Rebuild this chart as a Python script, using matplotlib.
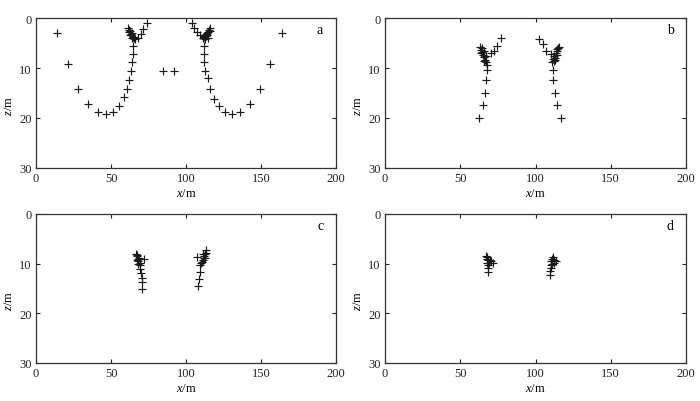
import matplotlib
matplotlib.use("Agg")
import matplotlib.pyplot as plt

plt.rcParams['font.family'] = ['Liberation Serif', 'DejaVu Serif']
plt.rcParams['mathtext.fontset'] = 'custom'
plt.rcParams['mathtext.it'] = 'Liberation Serif:italic'
plt.rcParams['mathtext.rm'] = 'Liberation Serif'

# Panel a
xa = [14.2, 21.1, 28.2, 34.9, 41.1, 46.7, 51.6, 55.3, 58.7, 60.9, 62.2, 63.3, 64.2, 64.7, 64.7,
      61.5, 62.0, 62.3, 62.8, 63.2, 63.6, 64.0, 64.5, 65.0, 65.6, 66.2, 62.5, 63.8,
      68.2, 70.0, 71.6, 73.8,
      84.9, 92.0,
      104.0, 105.3, 107.1, 109.3,
      111.5, 112.2, 112.8, 113.3, 113.8, 114.3, 114.8, 115.3, 115.8, 116.2, 113.0, 114.5, 111.8,
      112.0, 112.0, 112.0, 112.7, 114.7, 116.0, 118.9, 121.8, 125.8, 130.4, 136.0, 142.7, 149.3, 156.0, 164.2]
za = [2.9, 9.2, 14.1, 17.2, 18.7, 19.1, 18.7, 17.5, 15.8, 14.1, 12.3, 10.5, 8.7, 7.1, 5.5,
      2.0, 2.4, 2.8, 2.6, 3.1, 3.4, 3.0, 3.7, 4.0, 3.8, 4.2, 3.3, 3.9,
      3.9, 3.1, 2.2, 1.0,
      10.5, 10.5,
      1.0, 2.0, 2.7, 3.4,
      4.0, 3.7, 4.2, 3.5, 3.0, 3.4, 2.7, 2.4, 2.0, 2.6, 3.1, 3.9, 3.5,
      5.5, 7.1, 8.7, 10.5, 12.0, 14.1, 16.1, 17.5, 18.7, 19.2, 18.7, 17.2, 14.1, 9.2, 2.9]

# Panel b
xb = [62.4, 64.9, 66.2, 67.3, 67.8, 68.0,
      63.0, 63.5, 64.2, 64.6, 65.0, 65.5, 66.0, 66.4, 67.0, 67.3, 64.0, 65.8,
      70.4, 72.7, 74.4, 77.1,
      102.4, 104.7, 107.3, 110.0,
      111.0, 111.5, 112.0, 112.5, 113.0, 113.5, 114.0, 114.5, 115.0, 115.5, 113.2, 114.2,
      111.3, 111.8, 112.7, 114.4, 116.7]
zb = [19.9, 17.4, 14.9, 12.3, 10.3, 9.3,
      5.8, 6.3, 6.0, 6.8, 7.3, 6.6, 7.8, 8.3, 7.6, 8.8, 7.0, 8.6,
      7.0, 6.5, 5.5, 3.9,
      4.1, 5.2, 6.5, 7.2,
      8.8, 8.2, 8.6, 7.5, 7.9, 7.0, 6.6, 6.2, 6.0, 5.8, 8.3, 7.4,
      10.3, 12.3, 14.9, 17.4, 19.9]

# Panel c
xc = [66.5, 67.0, 67.5, 67.8, 68.2, 68.6, 69.0, 69.3, 67.3, 68.0, 72.2, 69.5, 69.8, 70.4, 70.7, 70.9,
      113.2, 113.6, 112.8, 112.3, 111.8, 112.6, 111.2, 110.6, 110.2, 111.5, 107.1, 109.5, 109.2, 108.7, 108.2]
zc = [8.0, 8.5, 8.2, 9.0, 9.5, 8.8, 9.8, 10.3, 9.3, 10.0, 9.0, 11.0, 11.9, 12.8, 13.7, 15.2,
      7.3, 7.8, 8.0, 8.4, 8.8, 8.9, 9.2, 9.6, 9.9, 8.0, 8.7, 10.3, 11.7, 13.0, 14.5]

# Panel d
xd = [67.0, 67.5, 68.0, 68.5, 69.0, 68.3, 69.5, 70.5, 71.8, 67.5, 68.5, 68.5,
      111.5, 111.0, 112.0, 110.5, 111.2, 110.0, 112.5, 113.5, 110.2, 109.8, 109.8]
zd = [8.5, 9.0, 8.7, 9.3, 9.8, 10.2, 9.2, 9.5, 9.8, 9.8, 10.8, 11.7,
      8.6, 9.0, 9.2, 9.5, 10.0, 10.3, 9.8, 9.5, 10.8, 11.5, 12.3]

panel_labels = ['a', 'b', 'c', 'd']
x_ticks = [0, 50, 100, 150, 200]
z_ticks = [0, 10, 20, 30]

fig = plt.figure(figsize=(7.0, 4.02), dpi=100)
W, H = 700.0, 402.0
rects = [(36, 19, 300, 150), (385, 19, 301, 150), (36, 215, 300, 149), (385, 215, 301, 149)]
data = [(xa, za), (xb, zb), (xc, zc), (xd, zd)]

for (l, t, w, h), (xs, zs), lab in zip(rects, data, panel_labels):
    ax = fig.add_axes([l / W, 1 - (t + h) / H, w / W, h / H])
    ax.plot(xs, zs, linestyle='none', marker='+', markersize=6, markeredgewidth=0.85, color='#1a1a1a')
    ax.set_xlim(0, 200)
    ax.set_ylim(30, 0)
    ax.set_xticks(x_ticks)
    ax.set_yticks(z_ticks)
    ax.tick_params(direction='in', length=3, width=0.8, top=True, right=True,
                   labelsize=9, pad=3, colors='#222222')
    for s in ax.spines.values():
        s.set_linewidth(0.9)
        s.set_color('#333333')
    ax.set_xlabel(r'$x$/m', fontsize=9, labelpad=2)
    ax.set_ylabel(r'$z$/m', fontsize=9)
    ax.yaxis.set_label_coords(-0.07, 0.42)
    ax.text(0.947, 0.92, lab, transform=ax.transAxes, ha='center', va='center', fontsize=10)

fig.savefig('out.png', dpi=100)
